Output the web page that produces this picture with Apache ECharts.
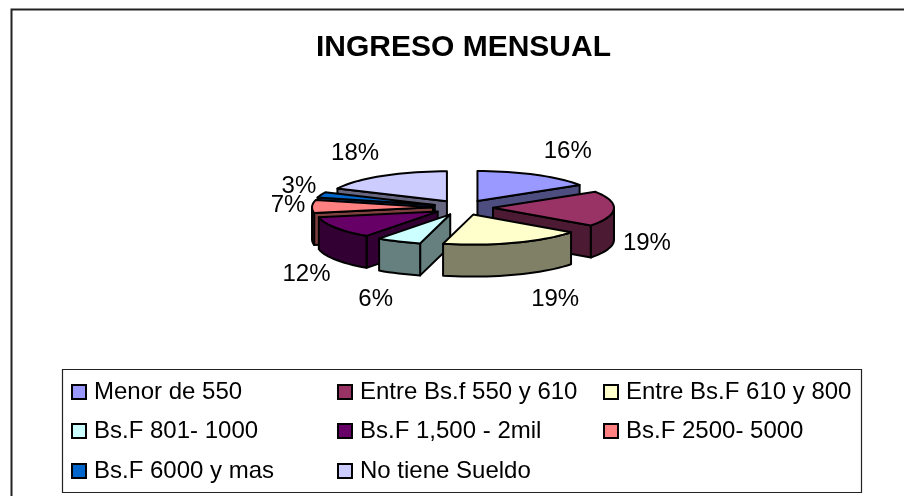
<!DOCTYPE html>
<html><head><meta charset="utf-8">
<style>html,body{margin:0;padding:0;background:#fff;overflow:hidden}#c{width:904px;height:496px}</style>
<script src="https://cdn.jsdelivr.net/npm/echarts@6/dist/echarts.min.js"></script>
</head><body><div id="c"></div>
<script>
const categories = ['Menor de 550','Entre Bs.f 550 y 610','Entre Bs.F 610 y 800','Bs.F 801- 1000','Bs.F 1,500 - 2mil','Bs.F 2500- 5000','Bs.F 6000 y mas','No tiene Sueldo'];
const values = [16,19,19,6,12,7,3,18];
const topColors = ['#9999FF','#993366','#FFFFCC','#CCFFFF','#660066','#FF8080','#0066CC','#CCCCFF'];
const sideColors = ['#4D4D80','#4D1A33','#808066','#668080','#330033','#804040','#003366','#666680'];
const labelNudges = [[31,-23],[32,3],[40,25],[-24,26],[-30,15],[-25,-1],[-23,-9],[-28,-23]];

const PIE = {cx:463, cy:207.6, rx:121, ry:30, depth:32, explode:30};
const FONT = '"Liberation Sans", Arial, sans-serif';
const total = values.reduce((a,b)=>a+b,0);
const rad = d => d*Math.PI/180;
let acc = 0;
const slices = values.map((v,i)=>{
  const start = acc/total*360; acc += v; const end = acc/total*360; const mid=(start+end)/2;
  return {i,start,end,mid,
    ax: PIE.cx + PIE.explode*Math.sin(rad(mid)),
    ay: PIE.cy - PIE.explode*Math.cos(rad(mid))*PIE.ry/PIE.rx};
});
const rim = (s,deg) => [s.ax+PIE.rx*Math.sin(rad(deg)), s.ay-PIE.ry*Math.cos(rad(deg))];
const down = p => [p[0],p[1]+PIE.depth];
function arc(s,a,b){const n=Math.max(2,Math.ceil((b-a)/3)),o=[];for(let k=0;k<=n;k++)o.push(rim(s,a+(b-a)*k/n));return o;}
const stroke = {stroke:'#000',lineWidth:2,lineJoin:'round'};
function poly(points,fill){return {type:'polygon',shape:{points},style:Object.assign({fill},stroke)};}

function renderSlice(s){
  return function(){
    const kids=[], side=sideColors[s.i], top=topColors[s.i], apex=[s.ax,s.ay];
    const wall=d=>{const r=rim(s,d);kids.push(poly([apex,r,down(r),down(apex)],side));};
    if(Math.sin(rad(s.start))<-1e-6) wall(s.start);
    if(Math.sin(rad(s.end))>1e-6) wall(s.end);
    const a=Math.max(s.start,90), b=Math.min(s.end,270);
    if(b>a){const e=arc(s,a,b);kids.push(poly(e.concat(e.slice().reverse().map(down)),side));}
    kids.push(poly([apex].concat(arc(s,s.start,s.end)),top));
    const m=rim(s,s.mid), front=s.mid>90&&s.mid<270;
    const n=labelNudges[s.i];
    kids.push({type:'text',style:{text:values[s.i]+'%',x:m[0]+n[0]+1,y:m[1]+(front?PIE.depth:0)+n[1],
      align:'center',verticalAlign:'middle',fill:'#000',font:'24px '+FONT}});
    return {type:'group',children:kids};
  };
}
const drawOrder = slices.slice().sort((p,q)=>p.ay-q.ay);
const series = drawOrder.map((s,k)=>({
  type:'custom',name:categories[s.i],coordinateSystem:'none',z:2+k,silent:true,
  data:[values[s.i]],renderItem:renderSlice(s),
  itemStyle:{color:topColors[s.i]},animation:false
}));
const colX=[71,337,603], rowY=[380,419,459];
const legends = categories.map((c,i)=>({
  show:true,data:[c],orient:'horizontal',selectedMode:false,
  left:colX[i%3],top:rowY[Math.floor(i/3)],padding:0,
  itemWidth:14,itemHeight:14,icon:'rect',itemGap:0,
  itemStyle:{borderColor:'#000',borderWidth:2},
  textStyle:{fontFamily:FONT,fontSize:24,color:'#000',padding:[0,0,0,3]}
}));
const chart=echarts.init(document.getElementById('c'),null,{renderer:'canvas'});
chart.setOption({
  animation:false,backgroundColor:'#fff',
  title:{text:'INGRESO MENSUAL',left:316,top:33,padding:0,
    textStyle:{fontFamily:FONT,fontSize:30,fontWeight:'bold',color:'#000'}},
  legend:legends,
  graphic:[
    {type:'rect',z:0,shape:{x:11.5,y:9.5,width:1000,height:1000},style:{fill:'none',stroke:'#222',lineWidth:2}},
    {type:'rect',z:0,shape:{x:62.5,y:369.5,width:799,height:123},style:{fill:'none',stroke:'#222',lineWidth:1.2}}
  ],
  series
});
</script></body></html>
